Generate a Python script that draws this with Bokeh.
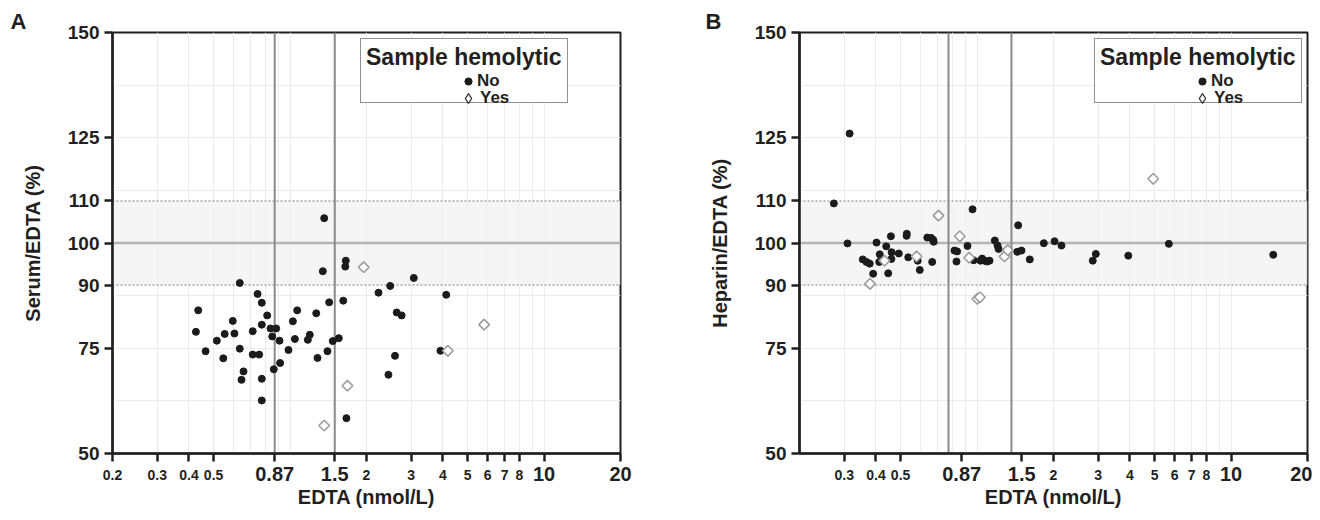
import numpy as np
from bokeh.plotting import figure
from bokeh.models import (Range1d, FixedTicker, Span, BoxAnnotation, Legend, LegendItem, LogAxis, Title)
from bokeh.layouts import row
from bokeh.embed import file_html
from bokeh.resources import INLINE

# ---------------- data ----------------
# Panel A: Serum/EDTA (%) vs EDTA (nmol/L)
a_no_x = [0.634, 0.745, 0.774, 0.435, 0.813, 0.595, 0.774, 0.426, 0.838, 0.882,
          0.713, 0.553, 0.604, 0.851, 0.515, 0.909, 0.465, 0.634, 0.986, 0.713,
          0.756, 0.546, 0.914, 0.656, 0.644, 0.774, 0.863, 0.774, 1.026, 1.067,
          1.045, 1.175, 1.196, 1.268, 1.283,
          1.363, 1.346, 1.658, 1.65, 3.07, 2.48, 2.23, 4.12, 1.426, 1.62,
          2.63, 2.75, 1.473, 1.556, 1.404, 3.91, 2.59, 2.44, 1.667]
a_no_y = [90.5, 87.9, 85.8, 84.0, 82.8, 81.5, 80.6, 78.9, 79.7, 79.7,
          79.05, 78.4, 78.5, 77.8, 76.8, 76.8, 74.3, 74.9, 74.6, 73.5,
          73.5, 72.6, 71.5, 69.5, 67.5, 67.75, 70.0, 62.6, 81.4, 84.0,
          77.2, 77.0, 78.2, 83.3, 72.7,
          105.9, 93.3, 95.8, 94.4, 91.7, 89.8, 88.2, 87.7, 85.9, 86.3,
          83.5, 82.8, 76.7, 77.4, 74.3, 74.4, 73.2, 68.7, 58.4]
a_yes_x = [1.95, 4.18, 5.81, 1.683, 1.363]
a_yes_y = [94.25, 74.4, 80.6, 66.1, 56.65]

# Panel B: Heparin/EDTA (%) vs EDTA (nmol/L)
b_no_x = [0.273, 0.309, 0.402, 0.439, 0.458, 0.529, 0.528, 0.637, 0.660, 0.672,
          0.675, 0.355, 0.367, 0.378, 0.414, 0.412, 0.461, 0.460, 0.492, 0.390,
          0.447, 0.536, 0.584, 0.595, 0.666, 0.815, 0.835, 0.830, 0.917, 0.960,
          0.970, 1.032, 1.047, 1.070, 1.095, 1.120, 1.175, 1.204, 1.215, 1.452,
          1.440, 1.496, 1.613, 1.832, 2.02, 2.15, 2.855, 2.935, 3.94, 5.69,
          14.66, 0.315]
b_no_y = [109.4, 99.9, 100.1, 99.2, 101.6, 102.2, 101.7, 101.3, 101.2, 100.75,
          100.3, 96.1, 95.5, 95.1, 97.3, 95.5, 97.8, 96.2, 97.5, 92.7,
          92.8, 96.6, 95.8, 93.6, 95.5, 98.2, 98.0, 95.6, 99.3, 108.0,
          95.9, 95.8, 96.3, 95.8, 95.6, 95.8, 100.6, 99.4, 98.6, 104.2,
          97.9, 98.2, 96.1, 99.95, 100.4, 99.4, 95.8, 97.4, 97.0, 99.8,
          97.2, 126.0]
b_yes_x = [0.432, 0.379, 0.578, 0.705, 0.855, 0.931, 1.002, 1.026, 1.283, 1.321, 4.94]
b_yes_y = [95.8, 90.3, 96.8, 106.5, 101.6, 96.5, 86.75, 87.1, 96.8, 98.3, 115.25]

# reference lines
a_vlines = [0.87, 1.5]
b_vlines = [0.772, 1.366]
band_low, band_mid, band_high = 90, 100, 110

# axes
x_ticks_a = [0.2, 0.3, 0.4, 0.5, 0.87, 1.5, 2, 3, 4, 5, 6, 7, 8, 10, 20]
x_ticks_b = [0.3, 0.4, 0.5, 0.87, 1.5, 2, 3, 4, 5, 6, 7, 8, 10, 20]
x_tick_text = {0.2: "0.2", 0.3: "0.3", 0.4: "0.4", 0.5: "0.5", 0.87: "0.87", 1.5: "1.5",
               2: "2", 3: "3", 4: "4", 5: "5", 6: "6", 7: "7", 8: "8", 10: "10", 20: "20"}
x_big = [0.87, 1.5, 10, 20]
x_grid = [0.3, 0.4, 0.5, 0.6, 0.7, 0.8, 0.9, 1, 2, 3, 4, 5, 6, 7, 8, 9, 10]
y_ticks = [50, 75, 90, 100, 110, 125, 150]
y_grid = [62.5, 75, 87.5, 112.5, 125, 137.5]
x_min, x_max = 0.2, 20
y_min, y_max = 50, 150

# ---------------- style ----------------
FONT = "Liberation Sans"
INK = "#231f20"
FRAME_W, FRAME_H = 508, 421
TOP, BOTTOM = 32, 64


def style_axis(ax):
    ax.axis_line_color = INK
    ax.axis_line_width = 2.5
    ax.major_tick_line_color = INK
    ax.major_tick_line_width = 2.5
    ax.major_tick_out = 8
    ax.major_tick_in = 0
    ax.minor_tick_out = 0
    ax.minor_tick_in = 0
    ax.major_label_text_font = FONT
    ax.major_label_text_font_style = "bold"
    ax.major_label_text_color = INK
    ax.axis_label_text_font = FONT
    ax.axis_label_text_font_style = "bold"
    ax.axis_label_text_font_size = "20px"
    ax.axis_label_text_color = INK


def panel(letter, letter_x, ylabel, no_x, no_y, yes_x, yes_y, vlines, ticks, left, right, leg_x):
    p = figure(width=left + FRAME_W + right, height=TOP + FRAME_H + BOTTOM,
               x_axis_type="log", x_range=Range1d(x_min, x_max), y_range=Range1d(y_min, y_max),
               output_backend="svg", toolbar_location=None,
               min_border_left=left, min_border_right=right,
               min_border_top=TOP, min_border_bottom=BOTTOM)
    p.title = Title(text=letter, align="left", offset=letter_x - left,
                    text_font=FONT, text_font_style="bold", text_font_size="22px",
                    text_color=INK, standoff=-2)
    p.outline_line_color = INK
    p.outline_line_width = 2
    p.background_fill_color = "white"

    # grids
    p.xgrid.ticker = FixedTicker(ticks=x_grid)
    p.ygrid.ticker = FixedTicker(ticks=y_grid)
    p.grid.grid_line_color = "#ececec"
    p.grid.grid_line_width = 1

    # band and reference lines
    p.add_layout(BoxAnnotation(bottom=band_low, top=band_high, fill_color="#f3f3f3", fill_alpha=0.8,
                               line_alpha=0, level="underlay"))
    for v in (band_low, band_high):
        p.add_layout(Span(location=v, dimension="width", line_color="#a8a8a8", line_width=1.5,
                          line_dash="2 2", level="underlay"))
    p.add_layout(Span(location=band_mid, dimension="width", line_color="#b4b4b4", line_width=2.5,
                      level="underlay"))
    for v in vlines:
        p.add_layout(Span(location=v, dimension="height", line_color="#8a8a8a", line_width=2,
                          level="underlay"))

    r_no = p.scatter(no_x, no_y, marker="circle", size=7, fill_color="#1b1b1b", line_color="#1b1b1b")
    r_yes = p.scatter(yes_x, yes_y, marker="square", angle=np.pi / 4, size=7.5, fill_color="white",
                      line_color="#9c9c9c", line_width=1.6)
    # same "Yes" series, hidden, only used to draw an upright diamond key in the legend
    r_yes_key = p.scatter(yes_x, yes_y, marker="diamond", size=10, fill_color="white",
                          line_color="#333333", line_width=1.3, visible=False)
    r_box = p.scatter(x=[], y=[], marker="circle", size=1, fill_alpha=0, line_alpha=0)

    # x axis: small labels
    xa = p.xaxis[0]
    style_axis(xa)
    xa.ticker = FixedTicker(ticks=ticks)
    xa.major_label_overrides = {t: ("" if t in x_big else x_tick_text[t]) for t in ticks}
    xa.major_label_text_font_size = "14px"
    xa.major_label_standoff = 8

    # x axis: large labels
    big = [t for t in ticks if t in x_big]
    xb = LogAxis(ticker=FixedTicker(ticks=big))
    style_axis(xb)
    xb.axis_line_alpha = 0
    xb.major_tick_out = 0
    xb.major_tick_line_alpha = 0
    xb.major_label_overrides = {t: x_tick_text[t] for t in big}
    xb.major_label_text_font_size = "20px"
    xb.major_label_standoff = -16
    xb.axis_label = "EDTA (nmol/L)"
    xb.axis_label_standoff = 2
    p.add_layout(xb, "below")

    ya = p.yaxis[0]
    style_axis(ya)
    ya.ticker = FixedTicker(ticks=y_ticks)
    ya.major_label_text_font_size = "19px"
    ya.major_label_standoff = 5
    ya.axis_label = ylabel
    ya.axis_label_standoff = 21

    # legend box with title
    box = Legend(items=[LegendItem(label=" ", renderers=[r_box])],
                 title="Sample hemolytic", location=(leg_x, 350),
                 title_text_font=FONT, title_text_font_style="bold", title_text_font_size="23px",
                 title_text_color=INK, title_standoff=0,
                 label_text_font_size="4px", glyph_width=4, glyph_height=26, label_height=26,
                 padding=5, margin=0, spacing=0,
                 border_line_color=INK, border_line_width=1, background_fill_color="white",
                 background_fill_alpha=1)
    p.add_layout(box)
    # legend keys
    key_no = Legend(items=[LegendItem(label="No", renderers=[r_no])],
                    location=(leg_x + 99, 362),
                    label_text_font=FONT, label_text_font_style="bold", label_text_font_size="17px",
                    label_text_color=INK, glyph_width=18, glyph_height=18, label_height=18,
                    label_standoff=0, padding=0, margin=0, border_line_alpha=0, background_fill_alpha=0)
    key_yes = Legend(items=[LegendItem(label="Yes", renderers=[r_yes_key])],
                     location=(leg_x + 96, 343),
                     label_text_font=FONT, label_text_font_style="bold", label_text_font_size="17px",
                     label_text_color=INK, glyph_width=24, glyph_height=24, label_height=18,
                     label_standoff=0, padding=0, margin=0, border_line_alpha=0, background_fill_alpha=0)
    p.add_layout(key_no)
    p.add_layout(key_yes)
    return p


pa = panel("A", 10, "Serum/EDTA (%)", a_no_x, a_no_y, a_yes_x, a_yes_y, a_vlines, x_ticks_a,
           left=112, right=40, leg_x=248)
pb = panel("B", 45, "Heparin/EDTA (%)", b_no_x, b_no_y, b_yes_x, b_yes_y, b_vlines, x_ticks_b,
           left=139, right=5, leg_x=295)

layout = row(pa, pb)
open("out.html", "w").write(file_html(layout, INLINE))
